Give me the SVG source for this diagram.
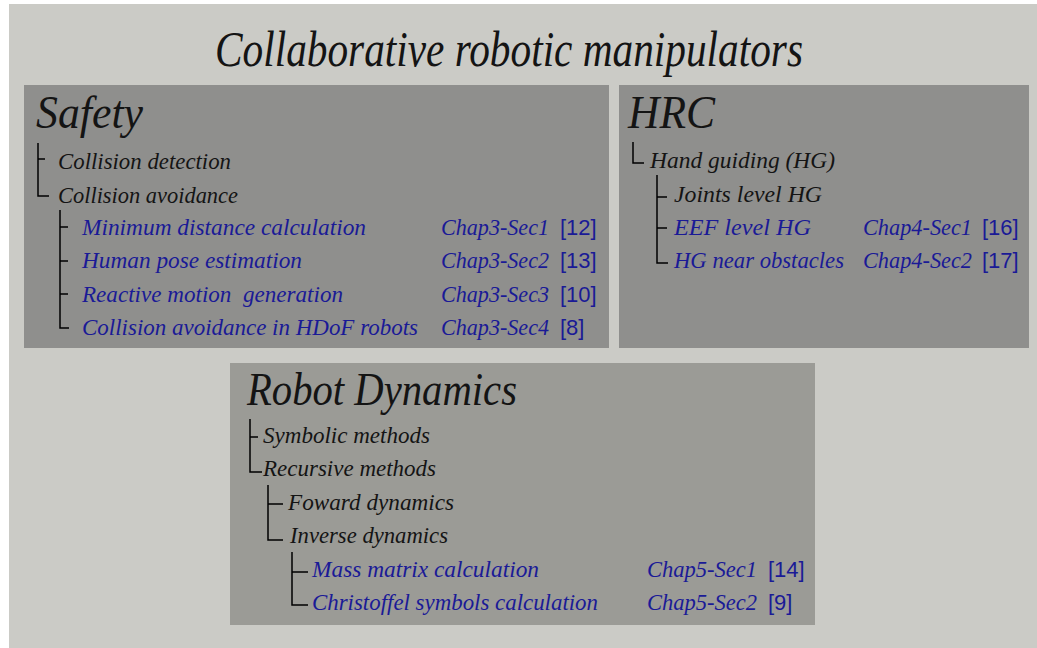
<svg xmlns="http://www.w3.org/2000/svg" width="1037" height="648" viewBox="0 0 1037 648">
<style>
.bg{fill:#cbcbc6}
.panel{fill:#8f8f8d}
.panel2{fill:#9b9b96}
.h{font-family:"Liberation Serif","DejaVu Serif",serif;font-style:italic;fill:#141414}
.t{font-family:"Liberation Serif","DejaVu Serif",serif;font-style:italic;font-size:24px;fill:#141414}
.b{font-family:"Liberation Serif","DejaVu Serif",serif;font-style:italic;font-size:24px;fill:#1a1a96}
.r{font-family:"Liberation Sans",Arial,sans-serif;font-size:22px;fill:#1a1a96}
.ln{fill:none;stroke:#000;stroke-width:1.5}
</style>
<rect x="0" y="0" width="1037" height="648" fill="#ffffff"/>
<rect class="bg" x="9" y="4" width="1028" height="644"/>
<g id="title">
<text class="h" x="215" y="66" font-size="50" textLength="588" lengthAdjust="spacingAndGlyphs">Collaborative robotic manipulators</text>
</g>
<g id="safety">
<rect class="panel" x="24" y="85" width="585" height="263"/>
<text class="h" x="36" y="128" font-size="46" textLength="107" lengthAdjust="spacingAndGlyphs">Safety</text>
<text class="t" x="58" y="169" textLength="173" lengthAdjust="spacingAndGlyphs">Collision detection</text>
<text class="t" x="58" y="203" textLength="180" lengthAdjust="spacingAndGlyphs">Collision avoidance</text>
<text class="b" x="82" y="235" textLength="284" lengthAdjust="spacingAndGlyphs">Minimum distance calculation</text>
<text class="b" x="82" y="268" textLength="220" lengthAdjust="spacingAndGlyphs">Human pose estimation</text>
<text class="b" x="82" y="302" textLength="261" lengthAdjust="spacingAndGlyphs" xml:space="preserve">Reactive motion  generation</text>
<text class="b" x="82" y="335" textLength="336" lengthAdjust="spacingAndGlyphs">Collision avoidance in HDoF robots</text>
<text class="b" x="441" y="235" textLength="108" lengthAdjust="spacingAndGlyphs">Chap3-Sec1</text>
<text class="b" x="441" y="268" textLength="108" lengthAdjust="spacingAndGlyphs">Chap3-Sec2</text>
<text class="b" x="441" y="302" textLength="108" lengthAdjust="spacingAndGlyphs">Chap3-Sec3</text>
<text class="b" x="441" y="335" textLength="108" lengthAdjust="spacingAndGlyphs">Chap3-Sec4</text>
<text class="r" x="560" y="235">[12]</text>
<text class="r" x="560" y="268">[13]</text>
<text class="r" x="560" y="302">[10]</text>
<text class="r" x="560" y="335">[8]</text>
</g>
<g id="hrc">
<rect class="panel" x="619" y="85" width="410" height="263"/>
<text class="h" x="628" y="128" font-size="46" textLength="87" lengthAdjust="spacingAndGlyphs">HRC</text>
<text class="t" x="650" y="168" textLength="185" lengthAdjust="spacingAndGlyphs">Hand guiding (HG)</text>
<text class="t" x="674" y="202" textLength="148" lengthAdjust="spacingAndGlyphs">Joints level HG</text>
<text class="b" x="674" y="235" textLength="137" lengthAdjust="spacingAndGlyphs">EEF level HG</text>
<text class="b" x="674" y="268" textLength="170" lengthAdjust="spacingAndGlyphs">HG near obstacles</text>
<text class="b" x="863" y="235" textLength="109" lengthAdjust="spacingAndGlyphs">Chap4-Sec1</text>
<text class="b" x="863" y="268" textLength="109" lengthAdjust="spacingAndGlyphs">Chap4-Sec2</text>
<text class="r" x="982" y="235">[16]</text>
<text class="r" x="982" y="268">[17]</text>
</g>
<g id="robot-dynamics">
<rect class="panel2" x="230" y="363" width="585" height="262"/>
<text class="h" x="247" y="405" font-size="46" textLength="270" lengthAdjust="spacingAndGlyphs">Robot Dynamics</text>
<text class="t" x="263" y="443" textLength="167" lengthAdjust="spacingAndGlyphs">Symbolic methods</text>
<text class="t" x="263" y="476" textLength="173" lengthAdjust="spacingAndGlyphs">Recursive methods</text>
<text class="t" x="288" y="510" textLength="166" lengthAdjust="spacingAndGlyphs">Foward dynamics</text>
<text class="t" x="290" y="543" textLength="158" lengthAdjust="spacingAndGlyphs">Inverse dynamics</text>
<text class="b" x="312" y="577" textLength="227" lengthAdjust="spacingAndGlyphs">Mass matrix calculation</text>
<text class="b" x="312" y="610" textLength="286" lengthAdjust="spacingAndGlyphs">Christoffel symbols calculation</text>
<text class="b" x="647" y="577" textLength="110" lengthAdjust="spacingAndGlyphs">Chap5-Sec1</text>
<text class="b" x="647" y="610" textLength="110" lengthAdjust="spacingAndGlyphs">Chap5-Sec2</text>
<text class="r" x="768" y="577">[14]</text>
<text class="r" x="768" y="610">[9]</text>
</g>
<g id="connectors">
<path class="ln" d="M38,143 V196 H49 M38,159 H45"/>
<path class="ln" d="M60,210 V328 H69 M60,227 H68 M60,261 H68 M60,294 H68"/>
<path class="ln" d="M633,142 V163 H644"/>
<path class="ln" d="M657,175 V263 H668 M657,197 H667 M657,228 H667"/>
<path class="ln" d="M250,419 V472 H262 M250,437 H258"/>
<path class="ln" d="M268,485 V540 H283 M268,504 H283"/>
<path class="ln" d="M292,552 V605 H308 M292,572 H308"/>
</g>
</svg>
